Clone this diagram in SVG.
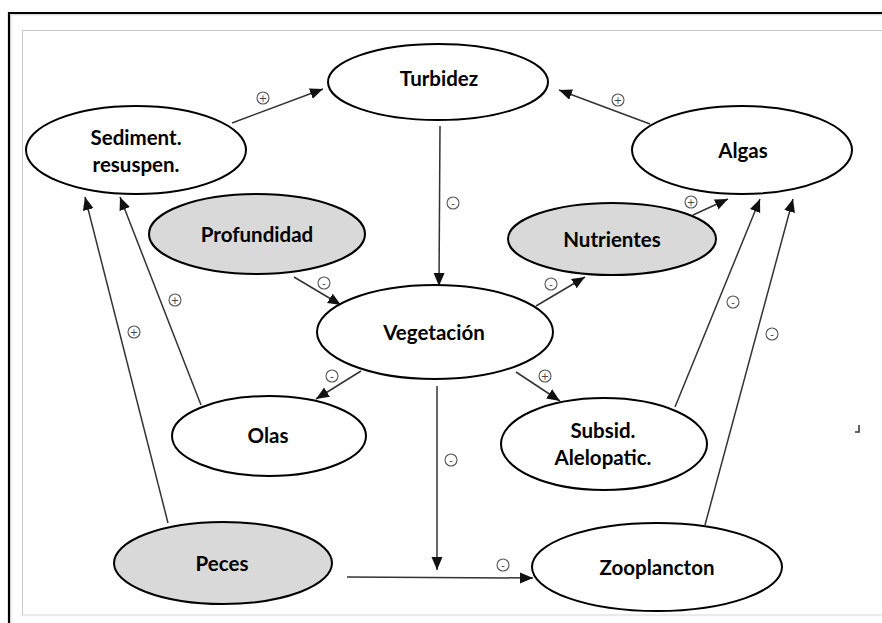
<svg xmlns="http://www.w3.org/2000/svg" width="882" height="623" viewBox="0 0 882 623">
<style>
.node{fill:#fff;stroke:#000;stroke-width:2}
.gray{fill:#d9d9d9}
.lbl{font-family:Lato,"Open Sans","Liberation Sans",sans-serif;font-weight:bold;font-size:20.5px;fill:#000;text-anchor:middle}
.edge{stroke:#333;stroke-width:1.5;fill:none;marker-end:url(#arr)}
.sc{fill:#fff;stroke:#555;stroke-width:1.1}
.sg{font-family:"DejaVu Sans",sans-serif;font-size:10px;fill:#444;text-anchor:middle}
</style>
<defs>
<marker id="arr" markerUnits="userSpaceOnUse" markerWidth="14" markerHeight="12" refX="13" refY="5.5" orient="auto">
<path d="M0,0 L13,5.5 L0,11 z" fill="#111"/>
</marker>
</defs>
<rect width="882" height="623" fill="#fff"/>
<g id="frame">
<path d="M9,623 V13 H882" fill="none" stroke="#000" stroke-width="2.2"/>
<path d="M10.8,623 V14.8 H882" fill="none" stroke="#ccc" stroke-width="1"/>
<path d="M22.5,615 V30.5 H882" fill="none" stroke="#c8c8c8" stroke-width="1"/>
<path d="M22.5,615 H882" fill="none" stroke="#aaa" stroke-width="1" stroke-dasharray="1,1"/>
</g>
<g id="connectors">
<line class="edge" x1="232" y1="123" x2="323" y2="89"/>
<line class="edge" x1="650" y1="124" x2="559" y2="90"/>
<line class="edge" x1="440" y1="126" x2="439" y2="286" stroke-width="1.2"/>
<line class="edge" x1="294" y1="277" x2="341" y2="305"/>
<line class="edge" x1="536" y1="306" x2="585" y2="277"/>
<line class="edge" x1="693" y1="215" x2="728" y2="199"/>
<line class="edge" x1="361" y1="371" x2="316" y2="399"/>
<line class="edge" x1="516" y1="372" x2="560" y2="401"/>
<line class="edge" x1="437" y1="386" x2="437" y2="570" stroke-width="1.2"/>
<line class="edge" x1="347" y1="577" x2="533" y2="578"/>
<line class="edge" x1="201" y1="405" x2="120" y2="197"/>
<line class="edge" x1="168" y1="523" x2="85" y2="197"/>
<line class="edge" x1="675" y1="407" x2="760" y2="199"/>
<line class="edge" x1="705" y1="525" x2="793" y2="199"/>
</g>
<g id="signs">
<circle class="sc" cx="263" cy="98" r="6"/><text class="sg" x="263" y="101.5">+</text>
<circle class="sc" cx="618" cy="100" r="6"/><text class="sg" x="618" y="103.5">+</text>
<circle class="sc" cx="453" cy="203" r="6"/><text class="sg" x="453" y="206.5">-</text>
<circle class="sc" cx="324" cy="283" r="6"/><text class="sg" x="324" y="286.5">-</text>
<circle class="sc" cx="551" cy="284" r="6"/><text class="sg" x="551" y="287.5">-</text>
<circle class="sc" cx="691" cy="202" r="6"/><text class="sg" x="691" y="205.5">+</text>
<circle class="sc" cx="332" cy="376" r="6"/><text class="sg" x="332" y="379.5">-</text>
<circle class="sc" cx="545" cy="376" r="6"/><text class="sg" x="545" y="379.5">+</text>
<circle class="sc" cx="451" cy="460" r="6"/><text class="sg" x="451" y="463.5">-</text>
<circle class="sc" cx="503" cy="565" r="6"/><text class="sg" x="503" y="568.5">-</text>
<circle class="sc" cx="175" cy="300" r="6"/><text class="sg" x="175" y="303.5">+</text>
<circle class="sc" cx="134" cy="332" r="6"/><text class="sg" x="134" y="335.5">+</text>
<circle class="sc" cx="733" cy="302" r="6"/><text class="sg" x="733" y="305.5">-</text>
<circle class="sc" cx="772" cy="334" r="6"/><text class="sg" x="772" y="337.5">-</text>
</g>
<g id="turbidez"><ellipse class="node" cx="438" cy="82" rx="110" ry="38"/><text class="lbl" x="439" y="86">Turbidez</text></g>
<g id="sediment"><ellipse class="node" cx="136" cy="150" rx="110" ry="44"/><text class="lbl" x="136" y="145">Sediment.</text><text class="lbl" x="136" y="172">resuspen.</text></g>
<g id="algas"><ellipse class="node" cx="742" cy="150" rx="110" ry="44"/><text class="lbl" x="743" y="158">Algas</text></g>
<g id="profundidad"><ellipse class="node gray" cx="257" cy="234" rx="108" ry="40"/><text class="lbl" x="257" y="242">Profundidad</text></g>
<g id="nutrientes"><ellipse class="node gray" cx="612" cy="239" rx="104" ry="36"/><text class="lbl" x="612" y="247">Nutrientes</text></g>
<g id="vegetacion"><ellipse class="node" cx="435" cy="332" rx="118" ry="47"/><text class="lbl" x="434" y="340">Vegetación</text></g>
<g id="olas"><ellipse class="node" cx="269" cy="436" rx="97" ry="40"/><text class="lbl" x="268" y="443">Olas</text></g>
<g id="subsid"><ellipse class="node" cx="604" cy="444" rx="103" ry="46"/><text class="lbl" x="603" y="438">Subsid.</text><text class="lbl" x="603" y="465">Alelopatic.</text></g>
<g id="peces"><ellipse class="node gray" cx="223" cy="563" rx="109" ry="41"/><text class="lbl" x="222" y="571">Peces</text></g>
<g id="zooplancton"><ellipse class="node" cx="657" cy="567" rx="125" ry="44"/><text class="lbl" x="657" y="575">Zooplancton</text></g>
<path d="M859,425 V432 H855" fill="none" stroke="#333" stroke-width="1.5"/>
</svg>
